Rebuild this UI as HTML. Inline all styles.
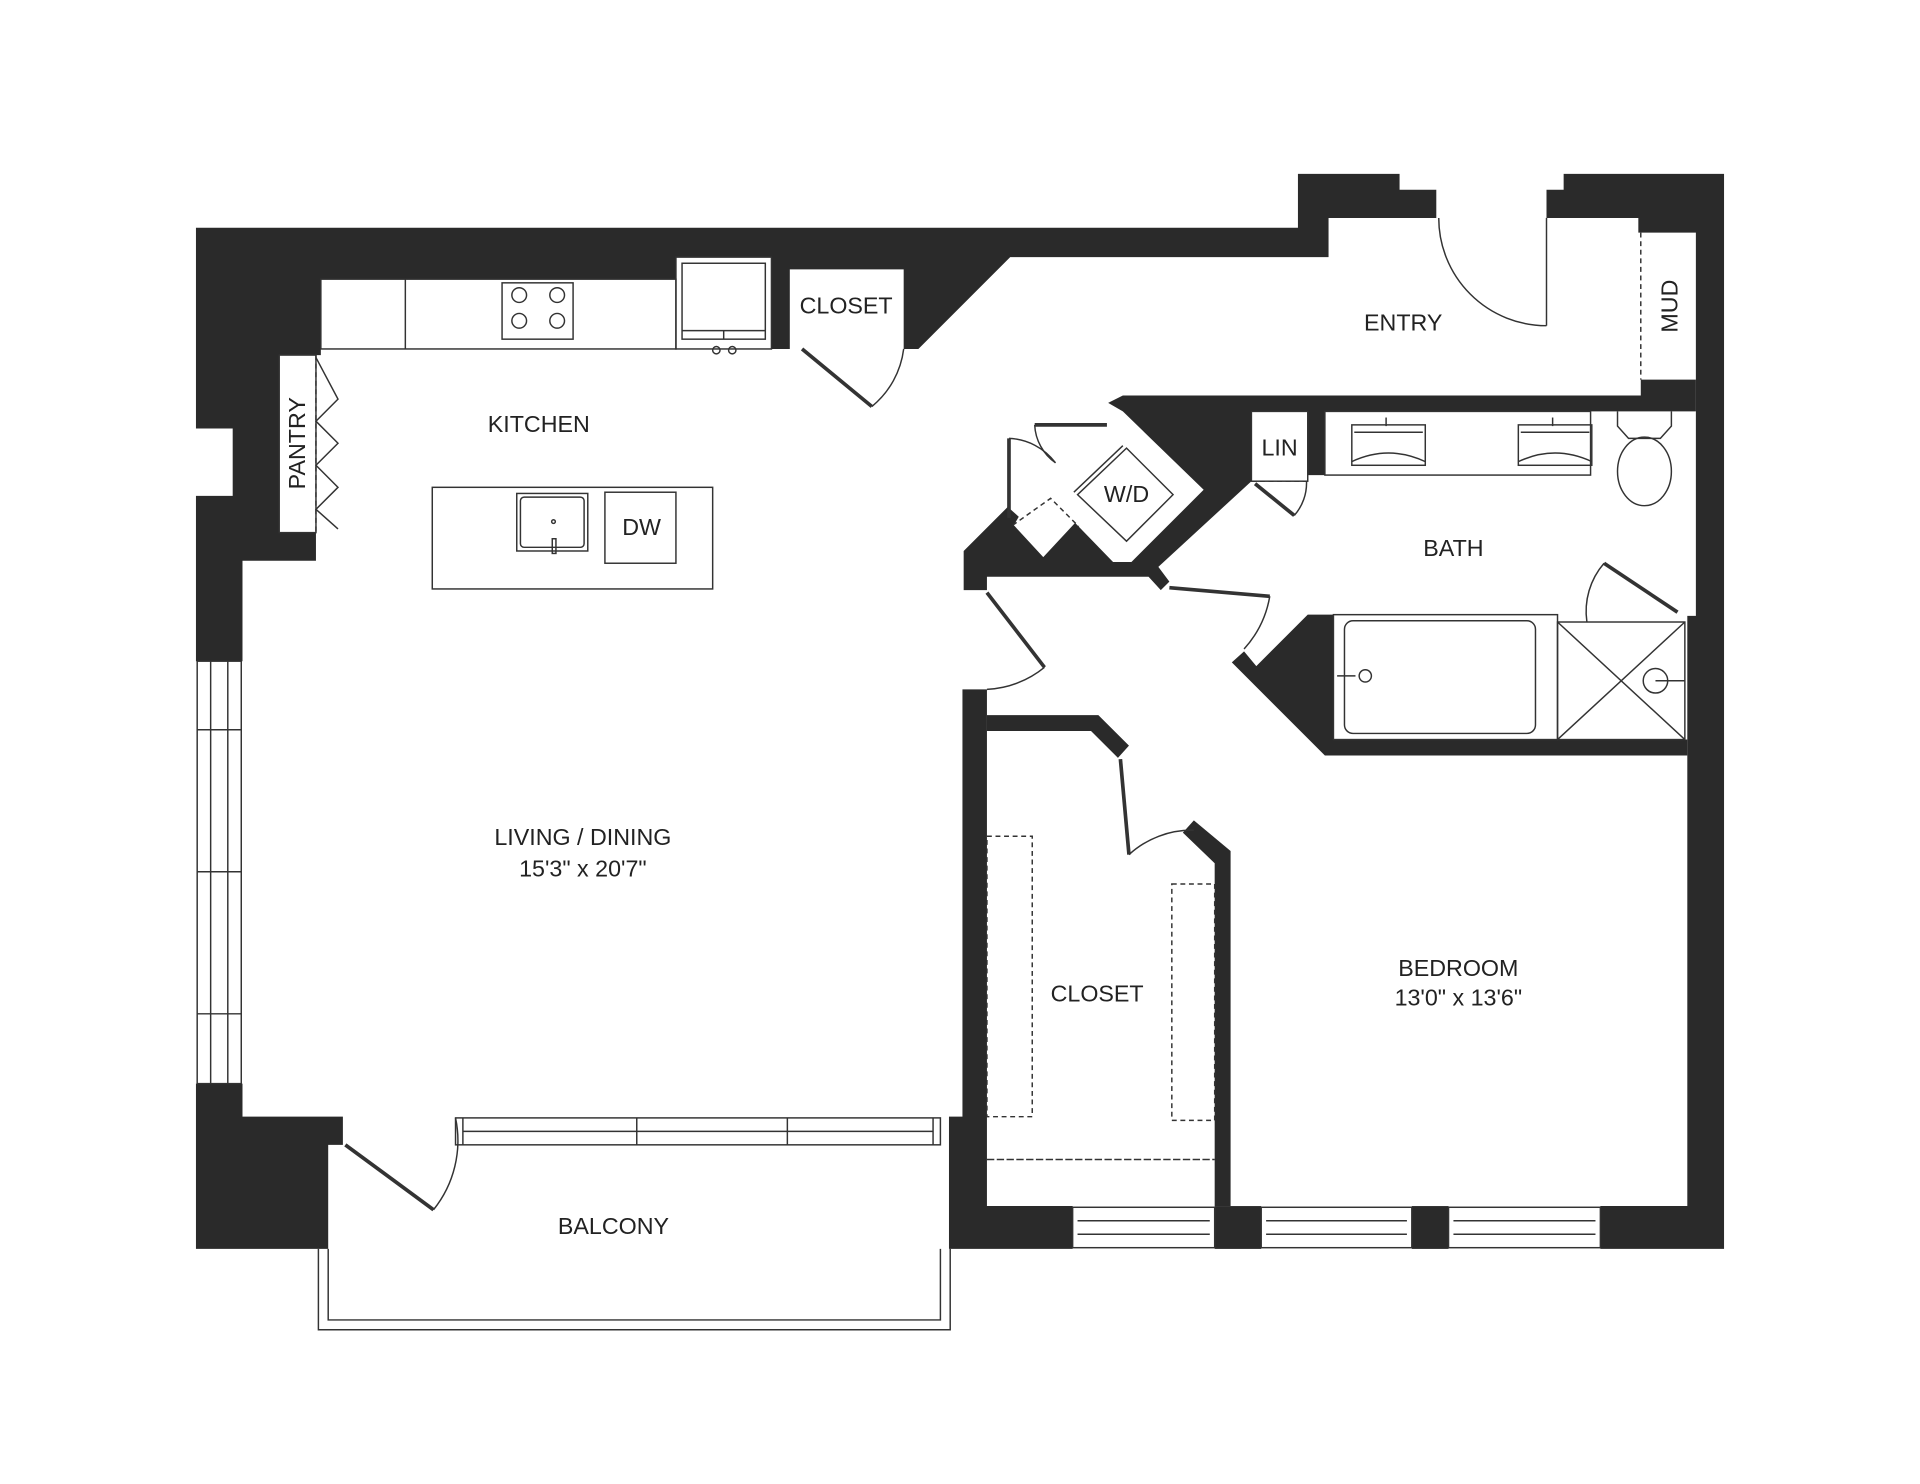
<!DOCTYPE html>
<html><head><meta charset="utf-8"><style>
html,body{margin:0;padding:0;background:#fff;}
svg{display:block;}
text{font-family:"Liberation Sans",sans-serif;fill:#222;font-size:19px;text-anchor:middle;}
</style></head><body>
<svg width="1920" height="1484" viewBox="0 0 1568 1212" xmlns="http://www.w3.org/2000/svg">
<rect width="1568" height="1212" fill="#fff"/>
<g fill="#2a2a2a">
<!-- top/left wall -->
<polygon points="160,186 1060,186 1060,142 1143,142 1143,155 1173,155 1173,178 1085,178 1085,210 825,210 750,285 738,285 738,220 645,220 645,285 630,285 630,210 552,210 552,228 262,228 262,290 228,290 228,435 258,435 258,458 198,458 198,540 160,540 160,405 190,405 190,350 160,350"/>
<!-- left bottom -->
<polygon points="160,885 198,885 198,912 280,912 280,935 268,935 268,1020 160,1020"/>
<!-- living right wall -->
<polygon points="786,563 806,563 806,985 876,985 876,1020 775,1020 775,912 786,912"/>
<!-- right wall -->
<polygon points="1263,155 1277,155 1277,142 1408,142 1408,1020 1307,1020 1307,985 1378,985 1378,503 1385,503 1385,190 1338,190 1338,178 1263,178"/>
<!-- central block -->
<polygon points="917,323 1340,323 1340,310 1385,310 1385,336 1082,336 1082,388 1068,388 1068,336 1022,336 1022,393 946,463 955,475 948,482 938,471 806,471 806,482 787,482 787,450 823,414 832,422 828,429 852,455 878,427 909,459 924,459 983,400 917,336 905,329"/>
<!-- bath diag -->
<polygon points="1068,502 1089,502 1089,604 1378,604 1378,617 1082,617 1006,541 1016,532 1026,544"/>
<!-- closet walls -->
<polygon points="806,584 897,584 922,609 913,619 891,597 806,597"/>
<polygon points="975,670 1005,695 1005,985 992,985 992,705 966,680"/>
<rect x="992" y="985" width="38" height="35"/>
<rect x="1153" y="985" width="30" height="35"/>
</g>
<g fill="none" stroke="#333" stroke-width="1.2">
<!-- left window -->
<rect x="161" y="540" width="36" height="345"/>
<line x1="172" y1="540" x2="172" y2="885"/><line x1="186" y1="540" x2="186" y2="885"/>
<line x1="161" y1="596" x2="197" y2="596"/><line x1="161" y1="712" x2="197" y2="712"/><line x1="161" y1="828" x2="197" y2="828"/>
<!-- living bottom window -->
<rect x="372" y="913" width="396" height="22"/>
<line x1="378" y1="924" x2="762" y2="924"/><line x1="520" y1="913" x2="520" y2="935"/><line x1="643" y1="913" x2="643" y2="935"/><line x1="378" y1="913" x2="378" y2="935"/><line x1="762" y1="913" x2="762" y2="935"/>
<!-- bottom windows -->
<rect x="876" y="986" width="116" height="33"/><line x1="880" y1="997" x2="988" y2="997"/><line x1="880" y1="1008" x2="988" y2="1008"/>
<rect x="1030" y="986" width="123" height="33"/><line x1="1034" y1="997" x2="1149" y2="997"/><line x1="1034" y1="1008" x2="1149" y2="1008"/>
<rect x="1183" y="986" width="124" height="33"/><line x1="1187" y1="997" x2="1303" y2="997"/><line x1="1187" y1="1008" x2="1303" y2="1008"/>
<!-- balcony -->
<polyline points="268,1020 268,1078 768,1078 768,1020"/>
<polyline points="260,1020 260,1086 776,1086 776,1020"/>
<!-- kitchen -->
<rect x="262" y="228" width="290" height="57"/><line x1="331" y1="228" x2="331" y2="285"/>
<rect x="410" y="231" width="58" height="46"/>
<circle cx="424" cy="241" r="6"/><circle cx="455" cy="241" r="6"/><circle cx="424" cy="262" r="6"/><circle cx="455" cy="262" r="6"/>
<rect x="552" y="210" width="78" height="75"/><rect x="557" y="215" width="68" height="62"/><line x1="557" y1="270" x2="625" y2="270"/><line x1="591" y1="270" x2="591" y2="277"/>
<circle cx="585" cy="286" r="3"/><circle cx="598" cy="286" r="3"/>
<rect x="353" y="398" width="229" height="83"/>
<rect x="422" y="403" width="58" height="47"/><rect x="425" y="406" width="52" height="41" rx="3"/>
<circle cx="452" cy="426" r="1.5"/><rect x="451" y="440" width="3" height="12"/>
<rect x="494" y="402" width="58" height="58"/>
<!-- pantry -->
<rect x="228" y="290" width="30" height="145"/>
<line x1="258" y1="290" x2="258" y2="435" stroke-dasharray="4,3"/>
<polyline points="258,292 276,326 258,344 276,362 258,380 276,398 258,416 276,432"/>
<!-- closet kitchen door -->
<line x1="655" y1="285" x2="712" y2="332" stroke-width="3"/>
<path d="M712,332 A72,72 0 0 0 738,285"/>
<!-- entry door -->
<line x1="1263" y1="178" x2="1263" y2="266"/>
<path d="M1175,178 A88,88 0 0 0 1263,266"/>
<line x1="1340" y1="190" x2="1340" y2="310" stroke-dasharray="4,3"/>
<!-- laundry -->
<polygon points="880,404 920,366 958,404 920,442"/>
<line x1="877" y1="402" x2="917" y2="364"/>
<line x1="845" y1="347" x2="904" y2="347" stroke-width="3"/>
<path d="M845,347 A40,40 0 0 0 862,378"/>
<line x1="824" y1="358" x2="824" y2="423" stroke-width="3"/>
<path d="M824,358 A50,50 0 0 1 862,378"/>
<polyline points="827,429 858,407 881,430" stroke-dasharray="4,3"/>
<!-- LIN -->
<rect x="1022" y="336" width="46" height="57"/>
<line x1="1022" y1="393" x2="1068" y2="393" stroke-dasharray="4,3"/>
<line x1="1025" y1="395" x2="1057" y2="421" stroke-width="3"/>
<path d="M1057,421 A40,40 0 0 0 1067,393"/>
<!-- vanity -->
<rect x="1082" y="336" width="217" height="52"/>
<rect x="1104" y="347" width="60" height="33"/><path d="M1104,377 Q1134,363 1164,377"/><line x1="1106" y1="353" x2="1162" y2="353"/>
<rect x="1240" y="347" width="60" height="33"/><path d="M1240,377 Q1270,363 1300,377"/><line x1="1242" y1="353" x2="1298" y2="353"/>
<line x1="1132" y1="341" x2="1132" y2="348"/><line x1="1268" y1="341" x2="1268" y2="348"/>
<!-- toilet -->
<path d="M1321,336 L1321,348 L1330,358 L1356,358 L1365,348 L1365,336"/>
<ellipse cx="1343" cy="385" rx="22" ry="28"/>
<!-- tub -->
<rect x="1089" y="502" width="183" height="102"/>
<rect x="1098" y="507" width="156" height="92" rx="7"/>
<circle cx="1115" cy="552" r="5"/><line x1="1092" y1="552" x2="1107" y2="552"/>
<rect x="1272" y="508" width="104" height="96"/>
<line x1="1272" y1="508" x2="1376" y2="604"/><line x1="1376" y1="508" x2="1272" y2="604"/>
<circle cx="1352" cy="556" r="10"/><line x1="1352" y1="556" x2="1376" y2="556"/>
<line x1="1310" y1="460" x2="1370" y2="500" stroke-width="3"/>
<path d="M1296,508 A60,60 0 0 1 1310,460"/>
<!-- bath door -->
<line x1="955" y1="480" x2="1037" y2="487" stroke-width="3"/>
<path d="M1037,487 A85,85 0 0 1 1016,530"/>
<!-- hall door -->
<line x1="806" y1="484" x2="853" y2="545" stroke-width="3"/>
<path d="M853,545 A80,80 0 0 1 806,563"/>
<!-- closet door -->
<line x1="915" y1="620" x2="922" y2="698" stroke-width="3"/>
<path d="M922,698 A76,76 0 0 1 975,678"/>
<!-- balcony door -->
<line x1="282" y1="935" x2="354" y2="988" stroke-width="3"/>
<path d="M354,988 A90,90 0 0 0 372,913"/>
<!-- closet shelves -->
<rect x="806" y="683" width="37" height="229" stroke-dasharray="4,3"/>
<rect x="957" y="722" width="35" height="193" stroke-dasharray="4,3"/>
<line x1="806" y1="947" x2="992" y2="947" stroke-dasharray="6,2"/>
</g>
<text x="691" y="256">CLOSET</text>
<text x="440" y="353">KITCHEN</text>
<text x="524" y="437">DW</text>
<text transform="translate(249,362) rotate(-90)">PANTRY</text>
<text x="476" y="690">LIVING / DINING</text>
<text x="476" y="716">15'3" x 20'7"</text>
<text x="501" y="1008">BALCONY</text>
<text x="1146" y="270">ENTRY</text>
<text transform="translate(1370,250) rotate(-90)">MUD</text>
<text x="920" y="410">W/D</text>
<text x="1045" y="372">LIN</text>
<text x="1187" y="454">BATH</text>
<text x="896" y="818">CLOSET</text>
<text x="1191" y="797">BEDROOM</text>
<text x="1191" y="821">13'0" x 13'6"</text>
</svg>
</body></html>
